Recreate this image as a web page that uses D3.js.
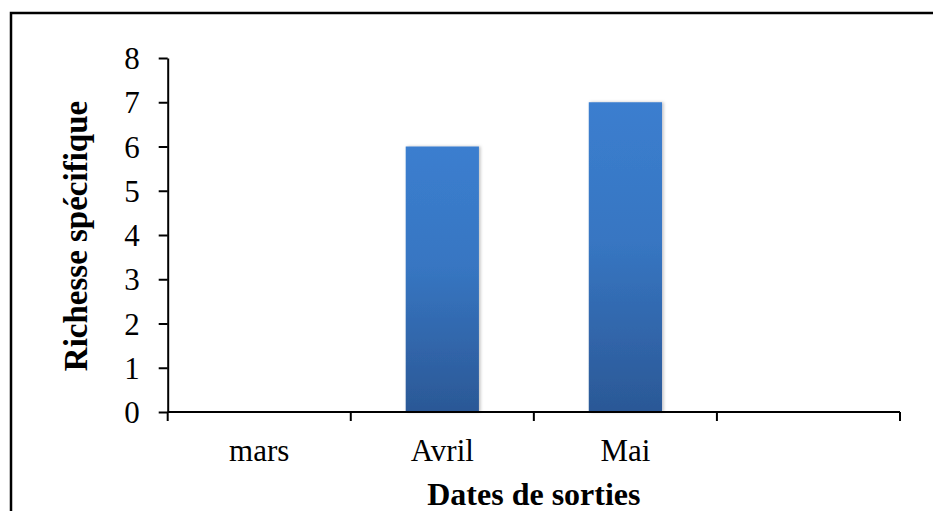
<!DOCTYPE html>
<html>
<head>
<meta charset="utf-8">
<script src="https://cdn.jsdelivr.net/npm/d3@7"></script>
<style>
    body { margin: 0; background: #fff; }
    text { font-family: "Liberation Serif", "Times New Roman", serif; fill: #000; }
</style>
</head>
<body>
<div id="chart"></div>
<script>
/**
 * Chart data.
 */
const Months = ["mars", "Avril", "Mai", ""];
const Richesse = [0, 6, 7, null];
const YTicks = [0, 1, 2, 3, 4, 5, 6, 7, 8];

/**
 * Dimensions.
 */
const W = 933;
const H = 511;
const Plot = { left: 167.7, right: 900, top: 58, bottom: 412 };

const svg = d3.select("#chart")
    .append("svg")
        .attr("width", W)
        .attr("height", H);

// Outer frame (right and bottom edges fall outside the picture).
svg.append("rect")
    .attr("x", 11)
    .attr("y", 13)
    .attr("width", W + 20)
    .attr("height", H + 20)
    .attr("fill", "none")
    .attr("stroke", "#000")
    .attr("stroke-width", 2.5);

// Bar gradient + soft shadow.
const defs = svg.append("defs");
const grad = defs.append("linearGradient")
    .attr("id", "barGrad")
    .attr("x1", 0).attr("y1", 0)
    .attr("x2", 0).attr("y2", 1);
grad.append("stop").attr("offset", "0%").attr("stop-color", "#3b7ecf");
grad.append("stop").attr("offset", "45%").attr("stop-color", "#3776c2");
grad.append("stop").attr("offset", "100%").attr("stop-color", "#2b5896");

defs.append("filter")
    .attr("id", "shadow")
    .attr("x", "-20%").attr("y", "-5%")
    .attr("width", "140%").attr("height", "110%")
  .append("feDropShadow")
    .attr("dx", 1.5).attr("dy", 0)
    .attr("stdDeviation", 1.5)
    .attr("flood-color", "#000")
    .attr("flood-opacity", 0.25);

const x = d3.scaleBand()
    .domain(d3.range(Months.length))
    .range([Plot.left, Plot.right])
    .paddingInner(0.6)
    .paddingOuter(0.3);

const y = d3.scaleLinear()
    .domain([0, 8])
    .range([Plot.bottom, Plot.top]);

// Bars.
svg.append("g")
    .selectAll("rect")
    .data(Richesse.map((v, i) => ({ i, v })).filter(d => d.v))
    .join("rect")
        .attr("x", d => x(d.i))
        .attr("y", d => y(d.v))
        .attr("width", x.bandwidth())
        .attr("height", d => y(0) - y(d.v))
        .attr("fill", "url(#barGrad)")
        .attr("filter", "url(#shadow)");

// Y axis.
const yAxis = svg.append("g")
    .attr("transform", `translate(${Plot.left},0)`)
    .call(d3.axisLeft(y)
        .tickValues(YTicks)
        .tickFormat(d3.format("d"))
        .tickSize(9)
        .tickSizeOuter(0)
        .tickPadding(19));
yAxis.selectAll("path, line")
    .attr("stroke", "#000")
    .attr("stroke-width", 2);
yAxis.selectAll("text")
    .style("font-size", "31px")
    .attr("dy", "0.34em");

// X axis: line, ticks on band boundaries, labels at band centres.
const step = x.step();
const xStart = Plot.left;
const bounds = d3.range(Months.length + 1).map(i => xStart + i * step);

const xAxis = svg.append("g");
xAxis.append("line")
    .attr("x1", Plot.left)
    .attr("x2", Plot.right)
    .attr("y1", Plot.bottom)
    .attr("y2", Plot.bottom)
    .attr("stroke", "#000")
    .attr("stroke-width", 2);
xAxis.selectAll(".tick")
    .data(bounds)
    .join("line")
        .attr("x1", d => d)
        .attr("x2", d => d)
        .attr("y1", Plot.bottom)
        .attr("y2", Plot.bottom + 9)
        .attr("stroke", "#000")
        .attr("stroke-width", 2);
xAxis.selectAll("text")
    .data(Months)
    .join("text")
        .attr("x", (d, i) => x(i) + x.bandwidth() / 2)
        .attr("y", 461)
        .attr("text-anchor", "middle")
        .style("font-size", "31px")
        .text(d => d);

// Axis titles.
svg.append("text")
    .attr("x", (Plot.left + Plot.right) / 2)
    .attr("y", 505)
    .attr("text-anchor", "middle")
    .style("font-size", "32px")
    .style("font-weight", "bold")
    .text("Dates de sorties");

svg.append("text")
    .attr("transform", "translate(87,236) rotate(-90)")
    .attr("text-anchor", "middle")
    .style("font-size", "33px")
    .style("font-weight", "bold")
    .text("Richesse spécifique");
</script>
</body>
</html>
